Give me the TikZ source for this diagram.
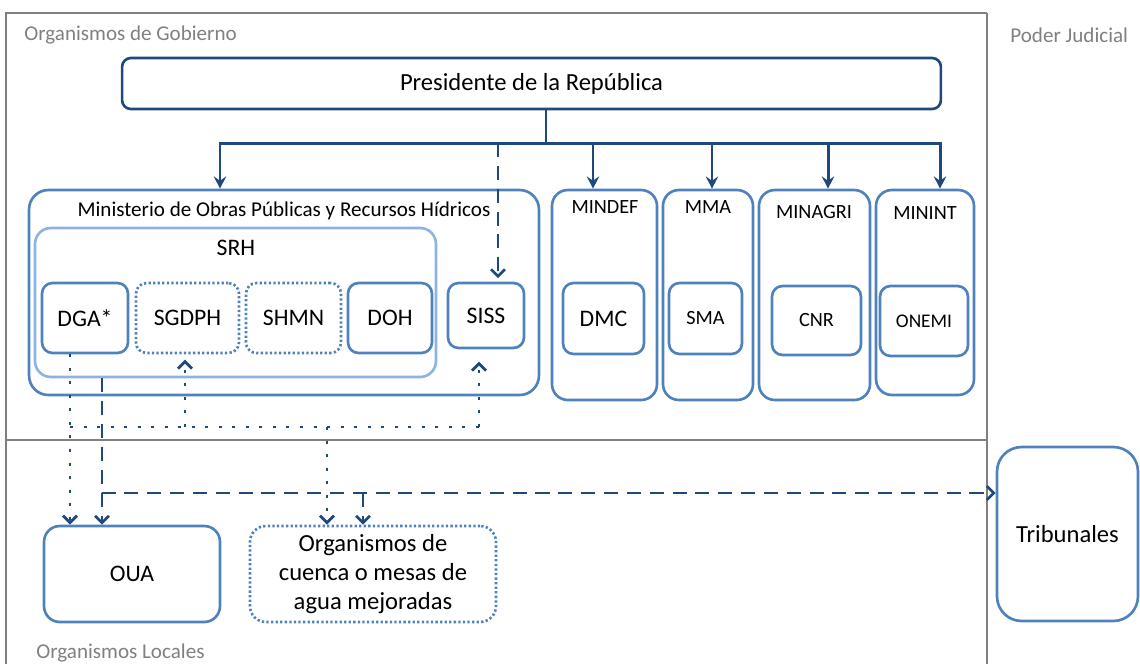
\documentclass[tikz,border=0pt]{standalone}
\usepackage{fontspec}
\setmainfont{Carlito}
\definecolor{navyline}{RGB}{31, 73, 125}
\definecolor{boxblue}{RGB}{79, 129, 189}
\definecolor{paleblue}{RGB}{141, 179, 226}
\definecolor{framegray}{RGB}{128, 128, 128}
\usetikzlibrary{arrows.meta, positioning}

\begin{document}
\begin{tikzpicture}[x=0.02cm, y=-0.02cm,
  secttitle/.style={font=\fontsize{12}{14}\selectfont, text=framegray, anchor=west, inner sep=0pt},
  frame/.style={draw=framegray, line width=0.9pt},
  unit/.style={draw=boxblue, line width=1.5pt, rounded corners=6pt, inner sep=0pt, align=center, font=\fontsize{13.5}{16.5}\selectfont},
  planned/.style={unit, dash pattern=on 1.3pt off 1.3pt},
  ministry/.style={unit, rounded corners=9pt},
  boxtitle/.style={inner sep=0pt, font=\fontsize{11.5}{14}\selectfont},
  tree/.style={draw=navyline, line width=1.7pt},
  treearrow/.style={tree, -{Stealth[length=7pt, width=7pt, inset=2.5pt]}},
  dashlink/.style={draw=navyline, line width=1.5pt, dash pattern=on 8pt off 5pt, -{Straight Barb[length=4pt, width=8pt]}},
  dotlink/.style={draw=navyline, line width=1.6pt, dash pattern=on 1.7pt off 6pt, -{Straight Barb[length=4pt, width=8pt]}}
]
  \useasboundingbox (0,0) rectangle (1140,664);

  \draw[frame] (6,664) -- (6,13) -- (987,13);
  \draw[frame] (987,13) -- (987,664);
  \draw[frame] (6,440) -- (987,440);
  \node[secttitle] (gob) at (24,35) {Organismos de Gobierno};
  \node[secttitle] (judicial) at (1010,35) {Poder Judicial};
  \node[secttitle] (locales) at (36,653) {Organismos Locales};

  \node[unit, draw=navyline, font=\fontsize{14}{17}\selectfont, rounded corners=5pt, minimum width=16.38cm, minimum height=1.02cm] (pres) at (531.5,83.5) {Presidente de la República};

  \node[ministry, rounded corners=11pt, minimum width=10.2cm, minimum height=4.1cm] (mop) at (284,292.5) {};
  \node[boxtitle, font=\fontsize{12}{14}\selectfont] (moptitle) at (284,211) {Ministerio de Obras Públicas y Recursos Hídricos};
  \node[unit, draw=paleblue, rounded corners=9pt, minimum width=8.02cm, minimum height=2.98cm] (srh) at (235.5,302.5) {};
  \node[boxtitle, font=\fontsize{13.5}{16}\selectfont] (srhtitle) at (236,248) {SRH};
  \node[unit, minimum width=1.72cm, minimum height=1.4cm] (dga) at (85,318) {DGA*};
  \node[planned, minimum width=2.06cm, minimum height=1.4cm] (sgdph) at (187.5,318) {SGDPH};
  \node[planned, minimum width=1.9cm, minimum height=1.4cm] (shmn) at (293.5,318) {SHMN};
  \node[unit, minimum width=1.68cm, minimum height=1.4cm] (doh) at (390,318) {DOH};
  \node[unit, minimum width=1.52cm, minimum height=1.3cm] (siss) at (486,315.5) {SISS};

  \node[ministry, minimum width=2.1cm, minimum height=4.2cm] (mindef) at (604.5,295) {};
  \node[boxtitle] (mindeftitle) at (605,207) {MINDEF};
  \node[unit, minimum width=1.62cm, minimum height=1.42cm] (dmc) at (603.5,318.5) {DMC};
  \node[ministry, minimum width=1.8cm, minimum height=4.2cm] (mma) at (708,295) {};
  \node[boxtitle] (mmatitle) at (708,207) {MMA};
  \node[unit, font=\fontsize{11.5}{14}\selectfont, minimum width=1.46cm, minimum height=1.42cm] (sma) at (705.5,318.5) {SMA};
  \node[ministry, minimum width=2.22cm, minimum height=4.2cm] (minagri) at (814.5,295) {};
  \node[boxtitle] (minagrititle) at (814,212) {MINAGRI};
  \node[unit, font=\fontsize{11.5}{14}\selectfont, minimum width=1.78cm, minimum height=1.38cm] (cnr) at (816.5,320.5) {CNR};
  \node[ministry, minimum width=1.96cm, minimum height=4.1cm] (minint) at (925,292.5) {};
  \node[boxtitle] (mininttitle) at (925,213) {MININT};
  \node[unit, font=\fontsize{11}{14}\selectfont, minimum width=1.76cm, minimum height=1.4cm] (onemi) at (924,321) {ONEMI};

  \node[unit, rounded corners=9pt, minimum width=3.52cm, minimum height=1.92cm] (oua) at (132,574) {OUA};
  \node[planned, font=\fontsize{14}{16.5}\selectfont, rounded corners=9pt, minimum width=4.92cm, minimum height=1.92cm] (cuenca) at (373,574) {Organismos de\\cuenca o mesas de\\agua mejoradas};
  \node[unit, font=\fontsize{14}{17}\selectfont, rounded corners=14pt, minimum width=2.82cm, minimum height=3.48cm] (trib) at (1067.5,534) {Tribunales};

  \coordinate (trunk) at (546,143);
  \coordinate (busend) at (940,143);
  \draw[tree] (pres.south -| trunk) -- (trunk);
  \draw[treearrow] (trunk) -- (220,143) -- (220,143 |- mop.north);
  \draw[treearrow] (trunk) -- (busend) -- (busend |- minint.north);
  \foreach \xpos/\target in {593/mindef, 712/mma, 828/minagri}
    \draw[treearrow] (\xpos,143) -- (\xpos,143 |- \target.north);
  \draw[dashlink, shorten >=2pt] (498,143) -- (498,143 |- siss.north);

  \coordinate (lawfork) at (102,493);
  \draw[dashlink] (102,0 |- srh.south) -- (lawfork) -- (lawfork -| trib.west);
  \draw[dashlink] (lawfork) -- (lawfork |- oua.north);
  \draw[dashlink] (363,493) -- (363,493 |- cuenca.north);

  \coordinate (dgaline) at (70,427);
  \coordinate (sissline) at (479,427);
  \draw[dotlink] (dgaline |- dga.south) -- (dgaline |- oua.north);
  \draw[dotlink, -] (dgaline) -- (sissline);
  \draw[dotlink, shorten >=7pt] (sissline) -- (sissline |- siss.south);
  \draw[dotlink, shorten >=3pt] (185,427) -- (185,427 |- sgdph.south);
  \draw[dotlink] (327,427) -- (327,427 |- cuenca.north);
\end{tikzpicture}
\end{document}
